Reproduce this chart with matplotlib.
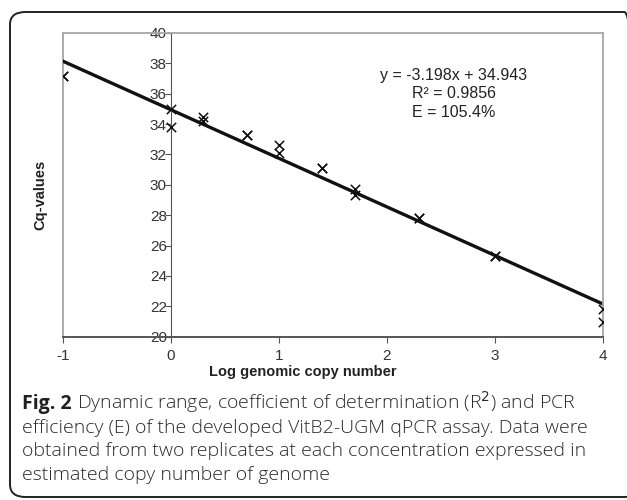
import matplotlib
matplotlib.use("Agg")
import matplotlib.pyplot as plt
from matplotlib.patches import FancyBboxPatch
import numpy as np

# data (two replicates per concentration)
log_copies = [-1, -1, 0, 0, 0.3, 0.3, 0.7, 0.7, 1, 1, 1.4, 1.4, 1.7, 1.7, 2.3, 2.3, 3, 3, 4, 4]
cq_values = [37.2, 37.2, 35.0, 33.8, 34.5, 34.2, 33.3, 33.3, 32.6, 32.1, 31.1, 31.1,
             29.7, 29.3, 27.8, 27.8, 25.3, 25.3, 21.8, 21.0]
slope = -3.198
intercept = 34.943
x_ticks = [-1, 0, 1, 2, 3, 4]
y_ticks = [20, 22, 24, 26, 28, 30, 32, 34, 36, 38, 40]

plt.rcParams['font.family'] = ['Liberation Sans', 'DejaVu Sans']

fig = plt.figure(figsize=(6.27, 5.0), dpi=100)
ax = fig.add_axes([0.1005, 0.3266, 0.8612, 0.6074])

# outer rounded box (right side runs off the image)
box = FancyBboxPatch((10 / 627, 3 / 500), 630 / 627, 485 / 500,
                     boxstyle="round,pad=0,rounding_size=0.025",
                     transform=fig.transFigure, fill=False, edgecolor='#222222',
                     linewidth=1.4, clip_on=False)
fig.patches.append(box)

ax.scatter(log_copies, cq_values, marker='x', s=45, color='#111111', linewidths=1.1, zorder=3)
fit_x = np.array([x_ticks[0], x_ticks[-1]])
ax.plot(fit_x, slope * fit_x + intercept, color='#111111', linewidth=2.4, zorder=2)

ax.set_xlim(-1, 4)
ax.set_ylim(20, 40)
ax.set_xticks(x_ticks)
ax.set_yticks(y_ticks)
ax.set_xticklabels(['-1', '0', '1', '2', '3', '4'])

# excel style axes: y axis at x = 0, grey frame around plot area
ax.spines['left'].set_position(('data', 0))
ax.spines['left'].set_color('#555555')
ax.spines['bottom'].set_color('#555555')
ax.spines['bottom'].set_linewidth(1.4)
for s in ['top', 'right']:
    ax.spines[s].set_color('#a6a6a6')
    ax.spines[s].set_linewidth(1.3)
ax.axvline(-1, color='#a6a6a6', linewidth=1.3, clip_on=False, zorder=1)

ax.tick_params(axis='y', direction='out', length=4, width=0.8, color='#555555',
               pad=-1, labelsize=11, labelcolor='#333333')
ax.tick_params(axis='x', direction='out', length=4, width=0.8, color='#555555',
               pad=5, labelsize=11, labelcolor='#333333')

fig.text(303 / 627, 1 - 372 / 500, 'Log genomic copy number', ha='center', va='center',
         fontsize=10.5, fontweight='bold', color='#222222')
fig.text(40 / 627, 1 - 195 / 500, 'Cq-values', ha='center', va='center', rotation=90,
         fontsize=10.5, fontweight='bold', color='#222222')

eq_text = 'y = -3.198x + 34.943\nR² = 0.9856\nE = 105.4%'
ax.text(2.62, 36.0, eq_text, ha='center', va='center', fontsize=11.5,
        color='#222222', linespacing=1.3)

# caption
cap_font = ['Open Sans', 'DejaVu Sans']
cap_size = 14
x0, y0 = 22 / 627, 1 - 409 / 500
fig_lbl = fig.text(x0, y0, 'Fig. 2', fontsize=cap_size, fontweight='bold',
                   family=cap_font, color='#231f20', va='baseline')
fig.canvas.draw()
bb = fig_lbl.get_window_extent()
fig.text(bb.x1 / 627 + 5 / 627, y0,
         'Dynamic range, coefficient of determination (R$^2$) and PCR',
         fontsize=cap_size, family=cap_font, fontweight='light', color='#2a2a2a', va='baseline')
caption_lines = [
    'efficiency (E) of the developed VitB2-UGM qPCR assay. Data were',
    'obtained from two replicates at each concentration expressed in',
    'estimated copy number of genome',
]
for i, line in enumerate(caption_lines):
    fig.text(x0, y0 - (i + 1) * 23.7 / 500, line, fontsize=cap_size, family=cap_font,
             fontweight='light', color='#2a2a2a', va='baseline')

fig.savefig('out.png', dpi=100)
